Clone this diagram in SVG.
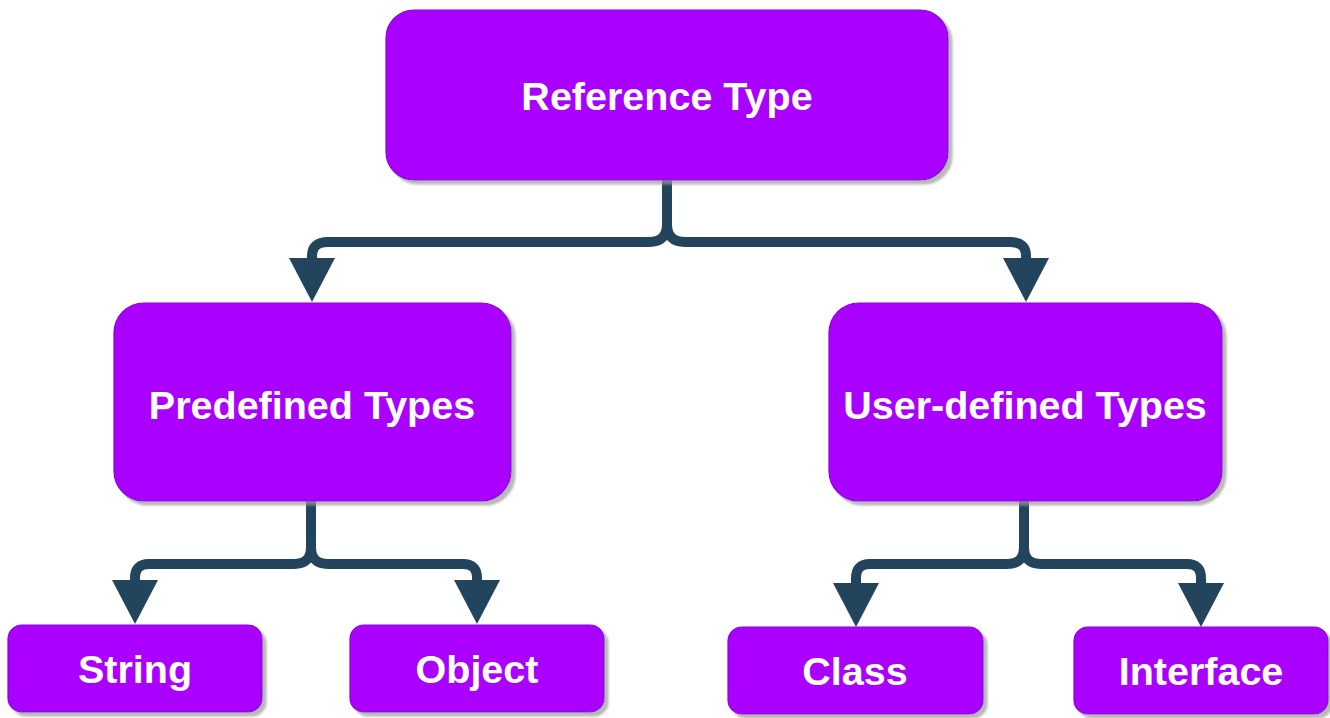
<svg xmlns="http://www.w3.org/2000/svg" width="1330" height="718" viewBox="0 0 1330 718">
  <style>
    .box { fill: #AA00FF; stroke: #8E00DA; stroke-width: 1.2; filter: url(#shadow); }
    .label { font-family: "Liberation Sans", Arial, sans-serif; font-weight: bold; font-size: 39.5px; fill: #FFFFFF; text-anchor: middle; }
    .edge { fill: none; stroke: #23445D; stroke-width: 10; stroke-linejoin: round; marker-end: url(#arrow); }
  </style>
  <defs>
    <filter id="shadow" x="-10%" y="-10%" width="130%" height="130%">
      <feDropShadow dx="4" dy="4" stdDeviation="1" flood-color="#9a9a9a" flood-opacity="0.7"/>
    </filter>
    <marker id="arrow" viewBox="0 -23 44 46" markerWidth="44" markerHeight="46" refX="0" refY="0" orient="auto" markerUnits="userSpaceOnUse">
      <path d="M0,-23 L44,0 L0,23 Z" fill="#23445D"/>
    </marker>
  </defs>

  <rect width="1330" height="718" fill="#FFFFFF"/>

  <!-- connectors -->
  <g id="connectors">
    <path class="edge" d="M667,180 L667,224 Q667,242 649,242 L328,242 Q312,242 312,256 L312,258"/>
    <path class="edge" d="M667,180 L667,224 Q667,242 685,242 L1010,242 Q1026,242 1026,256 L1026,258"/>
    <path class="edge" d="M311,501 L311,547 Q311,564 294,564 L149,564 Q135,564 135,578 L135,580"/>
    <path class="edge" d="M311,501 L311,547 Q311,564 328,564 L463,564 Q477,564 477,578 L477,580"/>
    <path class="edge" d="M1024,501 L1024,547 Q1024,564 1007,564 L870,564 Q856,564 856,578 L856,583"/>
    <path class="edge" d="M1024,501 L1024,547 Q1024,564 1041,564 L1187,564 Q1201,564 1201,578 L1201,583"/>
  </g>

  <g id="reference-type">
    <rect class="box" x="386" y="10" width="562" height="170" rx="28"/>
    <text class="label" x="667" y="110">Reference Type</text>
  </g>
  <g id="predefined-types">
    <rect class="box" x="114" y="303" width="397" height="198" rx="30"/>
    <text class="label" x="312" y="419">Predefined Types</text>
  </g>
  <g id="user-defined-types">
    <rect class="box" x="829" y="303" width="393" height="198" rx="30"/>
    <text class="label" x="1025" y="419">User-defined Types</text>
  </g>
  <g id="string">
    <rect class="box" x="8" y="625" width="254" height="87" rx="14"/>
    <text class="label" x="135" y="683">String</text>
  </g>
  <g id="object">
    <rect class="box" x="350" y="625" width="254" height="87" rx="14"/>
    <text class="label" x="477" y="683">Object</text>
  </g>
  <g id="class">
    <rect class="box" x="728" y="627" width="255" height="87" rx="14"/>
    <text class="label" x="855" y="685">Class</text>
  </g>
  <g id="interface">
    <rect class="box" x="1074" y="627" width="254" height="87" rx="14"/>
    <text class="label" x="1201" y="685">Interface</text>
  </g>
</svg>
